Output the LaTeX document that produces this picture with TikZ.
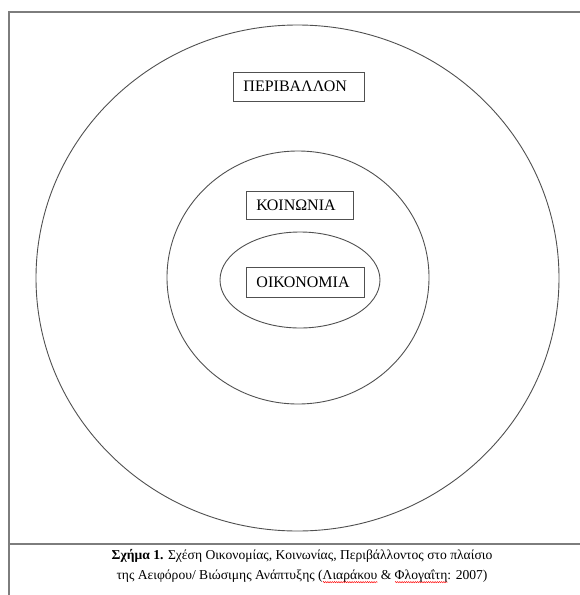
\documentclass[tikz,border=0pt]{standalone}
\usepackage{fontspec}
\setmainfont{Liberation Serif}
\usetikzlibrary{positioning, shapes.geometric, decorations.pathmorphing}
\definecolor{framegray}{RGB}{125,125,125}
\definecolor{ringgray}{RGB}{80,80,80}
\tikzset{
  ring/.style  = {ellipse, draw=ringgray, line width=0.9pt, inner sep=0pt},
  lbox/.style  = {draw=ringgray, line width=0.9pt, inner xsep=10pt, inner ysep=0pt,
                  align=left, anchor=west, font=\fontsize{16}{16}\selectfont},
  frame/.style = {draw=framegray, line width=1.4pt},
  wave/.style  = {red, line width=0.45pt, decorate,
                  decoration={zigzag, segment length=2.2pt, amplitude=0.6pt}},
}
% red spell-check wave under a word
\newsavebox{\spellbox}
\newcommand{\spellmark}[1]{\sbox{\spellbox}{#1}%
  \rlap{\tikz[baseline=0pt, x=1pt, y=1pt] \draw[wave] (0pt,-3pt) -- (\the\wd\spellbox,-3pt);}%
  \usebox{\spellbox}}

\begin{document}
\begin{tikzpicture}[x=1pt, y=-1pt]
  \useasboundingbox (0,0) rectangle (580,595);
  % page frame
  \coordinate (ftl) at (9,12);
  \coordinate (ftr) at (580,12);
  \coordinate (fml) at (9,544);
  \coordinate (fmr) at (580,544);
  \coordinate (fbl) at (9,595);
  \draw[frame] (ftr) -- (ftl) -- (fml) -- (fmr);
  \draw[frame] (fml) -- (fbl);
  % the three rings
  \foreach \n/\cx/\cy/\w/\h in {env/297.5/278/523/506, soc/298/277.5/262/253, eco/300/280/160/96} {
    \node[ring, minimum width=\w, minimum height=\h] (\n) at (\cx,\cy) {};
  }
  \node[lbox, text width=111, minimum height=29] (envlbl) at (233,86.5) {ΠΕΡΙΒΑΛΛΟΝ};
  \node[lbox, text width=87, minimum height=28] (soclbl) at (246,205) {ΚΟΙΝΩΝΙΑ};
  \node[lbox, text width=98, minimum height=30] (ecolbl) at (246,282) {ΟΙΚΟΝΟΜΙΑ};
  % caption
  \node[align=center, font=\fontsize{13.6}{20}\selectfont] (cap) at (302,566)
    {\textbf{Σχήμα 1.} Σχέση Οικονομίας, Κοινωνίας, Περιβάλλοντος στο πλαίσιο\\
     της Αειφόρου/ Βιώσιμης Ανάπτυξης (\spellmark{Λιαράκου} \& \spellmark{Φλογαΐτη}: 2007)};
\end{tikzpicture}
\end{document}
